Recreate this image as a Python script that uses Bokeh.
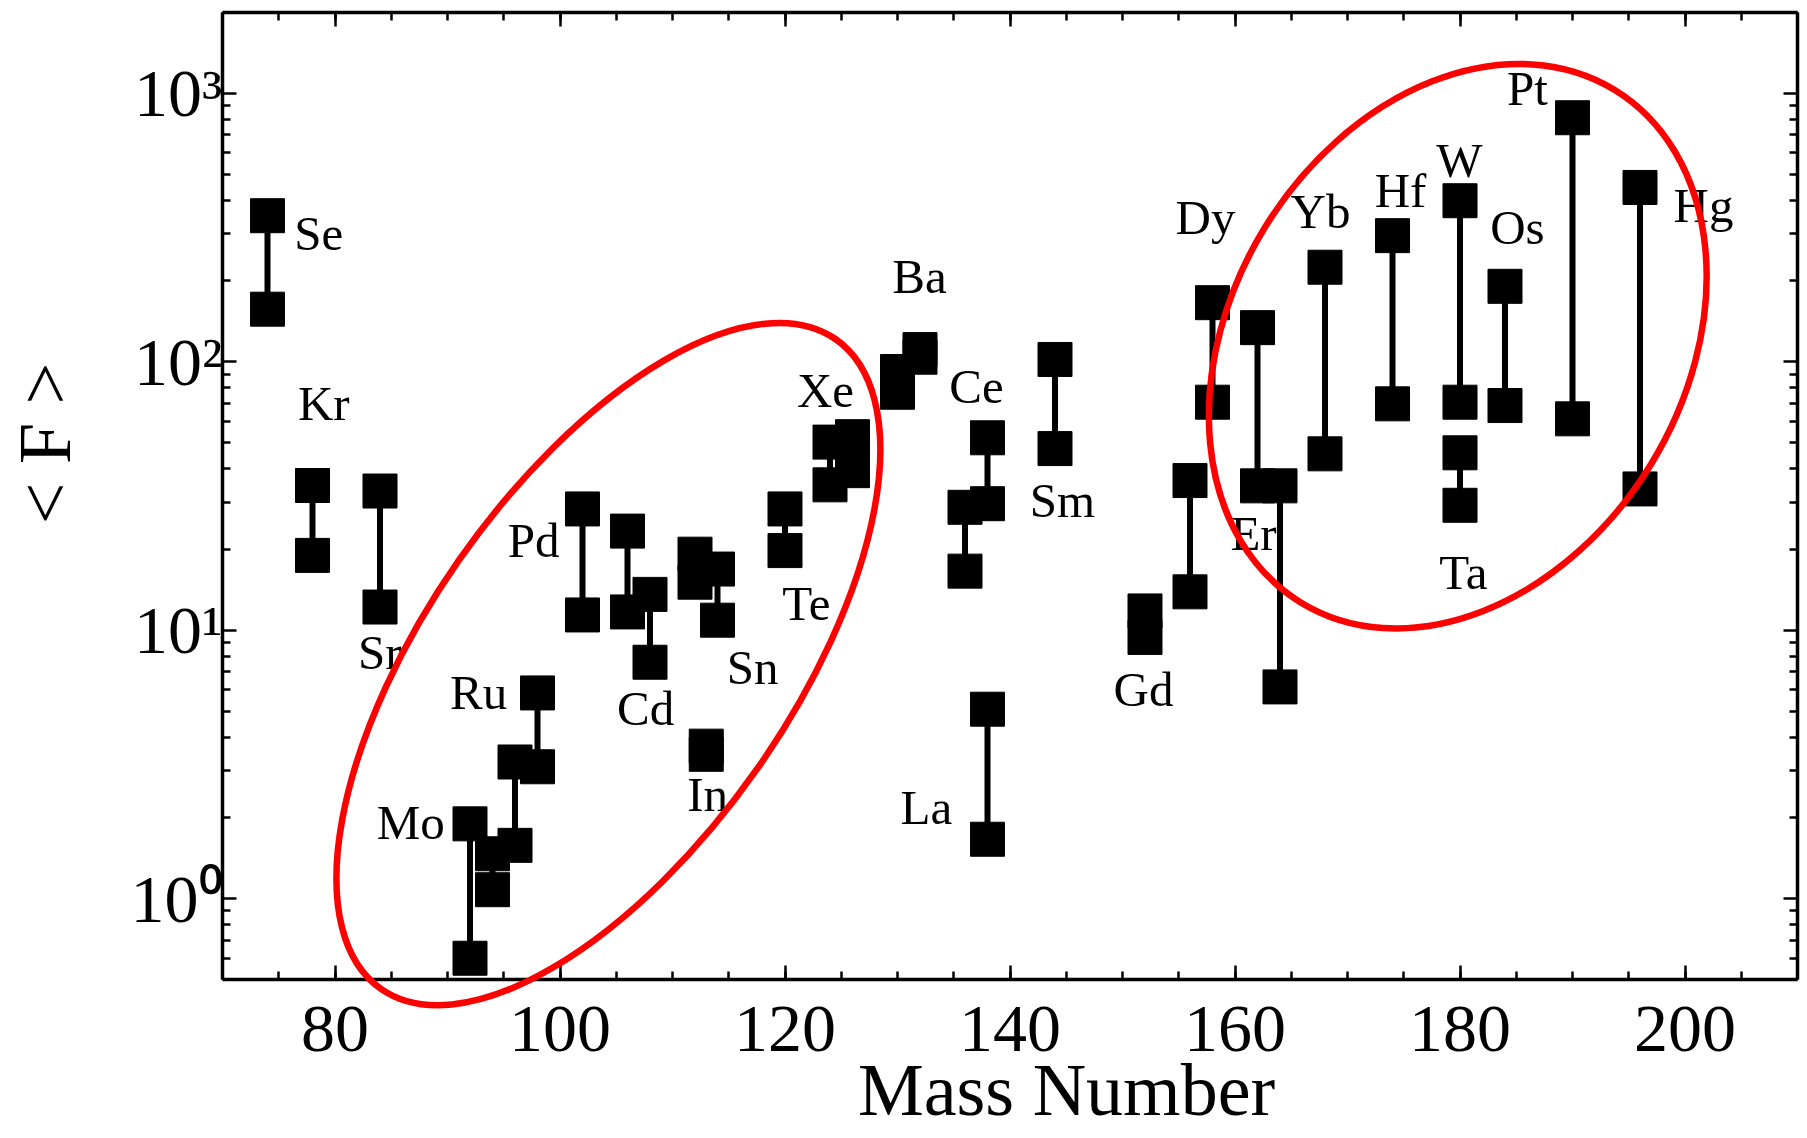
import math
from bokeh.plotting import figure
from bokeh.models import (ColumnDataSource, LinearAxis, LogAxis, FixedTicker,
                          SingleIntervalTicker, Range1d)
from bokeh.core.properties import value
from bokeh.embed import file_html
from bokeh.resources import INLINE

# ---------------- data ----------------
mass = [74, 78, 84, 92, 94, 96, 98, 102, 106, 108, 112, 113, 114, 120, 124, 126,
        130, 132, 136, 138, 138, 144, 152, 156, 158, 162, 164, 168, 174, 180, 180,
        184, 190, 196]
f_high = [350, 34.6, 33, 1.9, 1.47, 3.23, 5.84, 28.3, 23.4, 13.6, 19.2, 3.7, 16.9,
          28.3, 50.2, 52.6, 92, 111, 28.7, 52.1, 5.08, 102, 11.8, 36.1, 166, 134,
          34.5, 225, 295, 398, 45.8, 191, 811, 446]
f_low = [157, 19.0, 12.2, 0.6, 1.08, 1.58, 3.1, 11.4, 11.7, 7.6, 15.1, 3.45, 10.9,
         19.8, 34.8, 39.3, 77, 104, 16.6, 29.6, 1.665, 47.5, 9.4, 13.9, 70.7, 34.5,
         6.15, 45.4, 69.7, 70.7, 29.2, 68.7, 61.3, 33.6]

label_text = ["Se", "Kr", "Sr", "Mo", "Ru", "Pd", "Cd", "Sn", "In", "Te", "Xe", "Ba",
              "Ce", "Sm", "La", "Gd", "Dy", "Er", "Yb", "Hf", "W", "Os", "Ta", "Pt", "Hg"]
label_mass = [78.56, 79.0, 83.98, 86.73, 92.77, 97.66, 107.61, 117.12, 113.12, 121.91,
              123.6, 131.95, 137.02, 144.66, 132.57, 151.87, 157.38, 161.65, 167.6,
              174.71, 179.95, 185.1, 180.31, 186.0, 201.64]
label_f = [255, 59.6, 7.0, 1.64, 5.0, 18.3, 4.34, 6.16, 2.07, 10.7, 66.6, 176, 68.5,
           25.8, 1.86, 5.1, 293, 19.4, 307, 370, 478, 269, 13.9, 884, 325]

# highlighted groups (ellipse centres in data units)
group_mass = [104.3, 179.8]
group_f = [7.48, 114.3]

x_ticks_major = [80, 100, 120, 140, 160, 180, 200]
y_ticks_major = [1, 10, 100, 1000]
y_tick_labels = ["10\u2070", "10\u00b9", "10\u00b2", "10\u00b3"]

x_title = "Mass Number"
y_title = "< F >"

# ---------------- styling ----------------
FONT = "Liberation Serif"
X_MIN, X_MAX = 70, 210
Y_MIN, Y_MAX = 0.5, 2000
ELL_W = [793, 601]
ELL_H = [364, 453]
ELL_ANG = [math.radians(55.0), math.radians(58.5)]

p = figure(width=1807, height=1138,
           x_range=Range1d(X_MIN, X_MAX), y_range=Range1d(Y_MIN, Y_MAX),
           y_axis_type="log", output_backend="svg", toolbar_location=None,
           min_border_left=222, min_border_right=10, min_border_top=12,
           min_border_bottom=159, outline_line_color=None,
           background_fill_color="white", border_fill_color="white")
p.xgrid.visible = False
p.ygrid.visible = False

y_minor = [m * 10 ** e for e in range(-1, 4) for m in range(2, 10)]
y_minor = [v for v in y_minor if Y_MIN <= v <= Y_MAX]


def style_axis(ax, show_labels):
    ax.axis_line_width = 3.5
    ax.axis_line_color = "black"
    ax.major_tick_in = 14
    ax.major_tick_out = 0
    ax.minor_tick_in = 8
    ax.minor_tick_out = 0
    ax.major_tick_line_width = 2.5
    ax.minor_tick_line_width = 2.5
    ax.major_tick_line_color = "black"
    ax.minor_tick_line_color = "black"
    ax.major_label_text_font = FONT
    ax.major_label_text_color = "black"
    if not show_labels:
        ax.major_label_text_font_size = "1px"
        ax.major_label_text_color = None
        ax.major_label_standoff = 0


xb = p.xaxis[0]
xb.ticker = SingleIntervalTicker(interval=20, num_minor_ticks=4)
style_axis(xb, True)
xb.major_label_text_font_size = "68px"
xb.major_label_standoff = 27

yl = p.yaxis[0]
yl.ticker = FixedTicker(ticks=y_ticks_major, minor_ticks=y_minor)
style_axis(yl, True)
yl.major_label_text_font_size = "68px"
yl.major_label_standoff = 0
yl.major_label_overrides = {t: s for t, s in zip(y_ticks_major, y_tick_labels)}

xt = LinearAxis(ticker=SingleIntervalTicker(interval=20, num_minor_ticks=4))
style_axis(xt, False)
p.add_layout(xt, "above")

yr = LogAxis(ticker=FixedTicker(ticks=y_ticks_major, minor_ticks=y_minor))
style_axis(yr, False)
p.add_layout(yr, "right")

src = ColumnDataSource(dict(mass=mass, hi=f_high, lo=f_low))
p.segment(x0="mass", y0="lo", x1="mass", y1="hi", source=src,
          line_color="black", line_width=6)
p.scatter(x="mass", y="hi", source=src, marker="square", size=34,
          fill_color="black", line_color="black", line_width=1)
p.scatter(x="mass", y="lo", source=src, marker="square", size=34,
          fill_color="black", line_color="black", line_width=1)

lsrc = ColumnDataSource(dict(x=label_mass, y=label_f, t=label_text))
p.text(x="x", y="y", text="t", source=lsrc, text_font=value(FONT),
       text_font_size="49px", text_align="center", text_baseline="alphabetic",
       text_color="black", y_offset=-19)

esrc = ColumnDataSource(dict(x=group_mass, y=group_f, w=ELL_W, h=ELL_H, a=ELL_ANG))
er = p.ellipse(x="x", y="y", width="w", height="h", angle="a", source=esrc,
               width_units="screen", height_units="screen",
               fill_color=None, line_color="#ff0000", line_width=6.5)
er.level = "overlay"

# axis titles: anchored at the frame's lower-left corner, offset in pixels,
# drawn at overlay level so that they are not clipped to the frame
xr = p.text(x=[X_MIN], y=[Y_MIN], text=[x_title], text_font=value(FONT),
            text_font_size="74px", text_align="center", text_baseline="alphabetic",
            text_color="black", x_offset=844, y_offset=110)
xr.level = "overlay"
yr_t = p.text(x=[X_MIN], y=[Y_MIN], text=[y_title], text_font=value(FONT),
              text_font_size="74px", text_align="center", text_baseline="middle",
              text_color="black", angle=math.pi / 2, x_offset=-178, y_offset=-536)
yr_t.level = "overlay"

open("out.html", "w").write(file_html(p, INLINE))
